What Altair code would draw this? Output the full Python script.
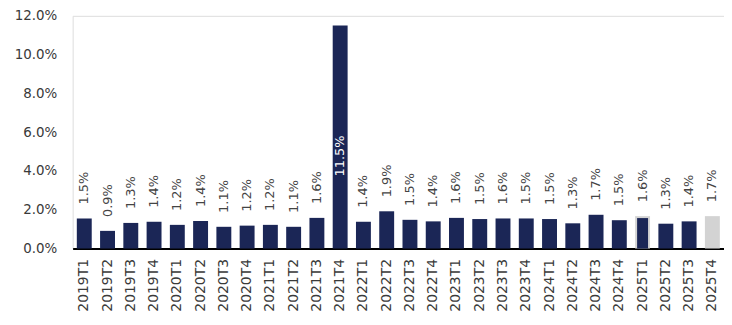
import altair as alt
import pandas as pd

quarters = ["2019T1", "2019T2", "2019T3", "2019T4",
            "2020T1", "2020T2", "2020T3", "2020T4",
            "2021T1", "2021T2", "2021T3", "2021T4",
            "2022T1", "2022T2", "2022T3", "2022T4",
            "2023T1", "2023T2", "2023T3", "2023T4",
            "2024T1", "2024T2", "2024T3", "2024T4",
            "2025T1", "2025T2", "2025T3", "2025T4"]
actual = [1.55, 0.91, 1.32, 1.38, 1.22, 1.42, 1.12, 1.18,
          1.22, 1.12, 1.58, 11.5, 1.38, 1.92, 1.48, 1.40,
          1.58, 1.52, 1.55, 1.55, 1.52, 1.30, 1.74, 1.46,
          1.57, 1.28, 1.40, None]
estimate = [None] * 24 + [1.67, None, None, 1.67]
labels = ["1.5%", "0.9%", "1.3%", "1.4%", "1.2%", "1.4%", "1.1%", "1.2%",
          "1.2%", "1.1%", "1.6%", "11.5%", "1.4%", "1.9%", "1.5%", "1.4%",
          "1.6%", "1.5%", "1.6%", "1.5%", "1.5%", "1.3%", "1.7%", "1.5%",
          "1.6%", "1.3%", "1.4%", "1.7%"]

df = pd.DataFrame({"q": quarters, "actual": actual, "estimate": estimate, "label": labels})

NAVY = "#1b2656"
GRAY = "#d3d3d3"
FONT = "DejaVu Sans"
CAP = 3.0

x = alt.X("q:N", sort=quarters, title=None,
          scale=alt.Scale(paddingInner=0.36, paddingOuter=0.18),
          axis=alt.Axis(labelAngle=-90, labelFont=FONT, labelFontSize=14,
                        labelColor="#3a3a3a", labelPadding=10, ticks=False,
                        domainColor="#000000", domainWidth=2, labelBaseline="middle"))
yscale = alt.Scale(domain=[0, 12], nice=False)
yaxis = alt.Axis(values=[0, 2, 4, 6, 8, 10, 12], grid=False, domain=False, ticks=False,
                 labelExpr="format(datum.value, '.1f') + '%'", labelFont=FONT,
                 labelFontSize=13.5, labelColor="#3a3a3a", labelPadding=16, title=None)

base = alt.Chart(df)

gray_bars = base.mark_bar(color=GRAY, size=15).encode(
    x=x, y=alt.Y("estimate:Q", scale=yscale, axis=yaxis)
).transform_filter("datum.estimate != null")

navy_bars = base.mark_bar(color=NAVY).encode(
    x=x, y=alt.Y("actual:Q", scale=yscale, axis=yaxis),
    size=alt.condition("datum.estimate != null", alt.value(11), alt.value(15))
).transform_filter("datum.actual != null")

text = base.transform_calculate(
    v="datum.actual != null ? max(datum.actual, datum.estimate || 0) : datum.estimate"
).transform_calculate(
    ly=f"min(datum.v, {CAP})"
).mark_text(angle=270, align="left", baseline="middle", dx=14, font=FONT, fontSize=13).encode(
    x=x, y=alt.Y("ly:Q", scale=yscale, axis=yaxis), text="label:N",
    color=alt.condition(f"datum.v > {CAP}", alt.value("#ffffff"), alt.value("#444444"))
)

chart = alt.layer(gray_bars, navy_bars, text).properties(
    width=655, height=234,
    autosize=alt.AutoSizeParams(type="none"),
    padding={"left": 65, "top": 7, "right": 0, "bottom": 68}
).configure_view(stroke=None).configure(background="#ffffff")

chart.save("out.html", embed_options={"renderer": "svg", "actions": False})
